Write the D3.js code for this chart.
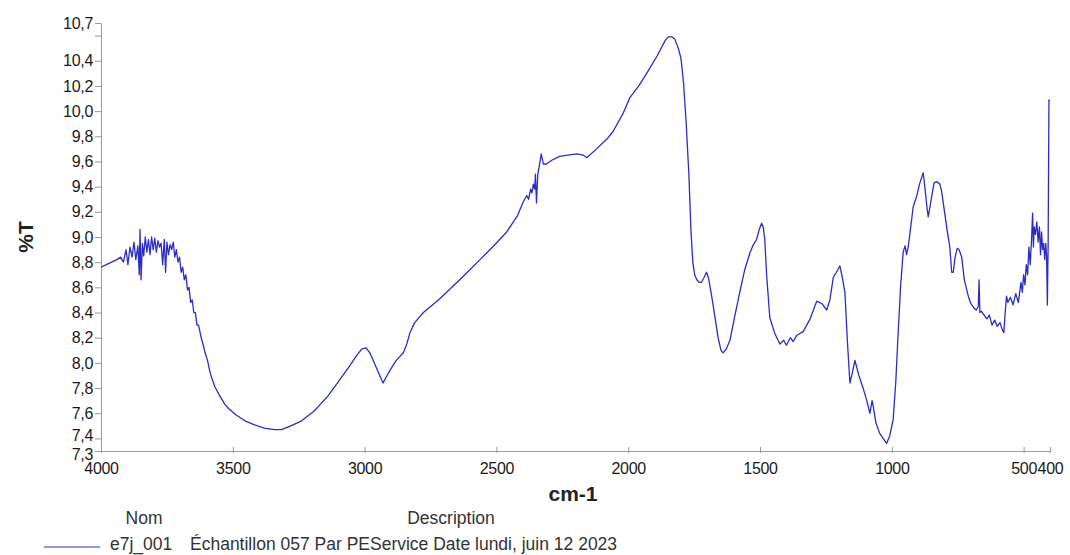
<!DOCTYPE html>
<html>
<head>
<meta charset="utf-8">
<script src="https://cdn.jsdelivr.net/npm/d3@7"></script>
<style>
  body { margin: 0; background: #fff; }
  svg { display: block; font-family: "Liberation Sans", Arial, sans-serif; }
  .tick text { fill: #1a1a1a; }
  .domain, .tick line { stroke: #9a9a9a; }
</style>
</head>
<body>
<div id="chart"></div>
<script>
// spectrum e7j_001
var wavenumbers = [4000,3980,3960,3940,3925,3915,3905,3898,3890,3882,3875,3868,3860,3855,3852,3848,3843,3838,3832,3826,3820,3814,3808,3802,3796,3790,3784,3778,3772,3766,3760,3755,3750,3744,3738,3732,3726,3720,3714,3708,3702,3696,3690,3684,3678,3672,3666,3660,3654,3648,3642,3636,3630,3620,3612,3605,3596,3588,3580,3568,3550,3530,3517,3490,3454,3420,3378,3340,3315,3280,3239,3190,3138,3100,3062,3030,3011,2995,2980,2955,2930,2915,2904,2880,2853,2840,2828,2810,2777,2720,2664,2610,2562,2510,2461,2420,2398,2385,2378,2370,2365,2360,2355,2352,2348,2343,2336,2330,2322,2310,2290,2260,2230,2195,2170,2157,2120,2080,2057,2020,1993,1960,1930,1890,1860,1848,1835,1823,1810,1800,1790,1780,1770,1762,1755,1748,1740,1730,1722,1712,1703,1695,1685,1672,1659,1648,1640,1628,1614,1595,1577,1558,1539,1525,1513,1503,1494,1488,1482,1475,1463,1445,1425,1410,1400,1385,1374,1360,1336,1310,1285,1265,1247,1235,1222,1210,1197,1188,1178,1168,1159,1150,1140,1125,1109,1095,1083,1075,1071,1060,1046,1030,1020,1008,995,985,976,967,957,950,944,938,930,919,905,895,881,873,867,862,852,840,830,818,811,800,790,780,773,767,760,752,745,735,725,710,700,690,680,672,669,666,660,650,640,630,620,610,600,590,580,575,570,565,560,550,540,530,520,510,505,500,495,490,485,480,475,470,466,463,460,455,450,445,440,436,432,428,424,420,416,413,410,407,404,401,400];
var transmittance = [8.76,8.78,8.80,8.82,8.84,8.80,8.90,8.78,8.92,8.84,8.96,8.82,8.93,8.70,9.06,8.66,8.95,8.85,9.00,8.88,8.98,8.86,9.00,8.90,8.99,8.88,8.97,8.92,8.95,8.78,8.98,8.72,8.96,8.86,8.94,8.90,8.96,8.84,8.90,8.80,8.84,8.72,8.76,8.66,8.70,8.58,8.60,8.48,8.50,8.40,8.40,8.30,8.30,8.20,8.14,8.08,8.02,7.94,7.88,7.81,7.74,7.67,7.64,7.59,7.54,7.51,7.48,7.47,7.47,7.50,7.54,7.62,7.74,7.85,7.96,8.06,8.11,8.12,8.08,7.96,7.84,7.90,7.94,8.02,8.08,8.15,8.24,8.32,8.40,8.50,8.61,8.72,8.82,8.93,9.04,9.17,9.28,9.33,9.30,9.38,9.35,9.42,9.38,9.50,9.27,9.50,9.58,9.66,9.58,9.58,9.61,9.64,9.65,9.66,9.65,9.63,9.70,9.78,9.84,9.98,10.11,10.20,10.30,10.44,10.56,10.59,10.59,10.57,10.50,10.42,10.22,9.90,9.50,9.05,8.80,8.70,8.66,8.64,8.64,8.68,8.72,8.67,8.55,8.38,8.20,8.10,8.08,8.11,8.18,8.38,8.56,8.74,8.87,8.94,8.98,9.06,9.11,9.08,8.98,8.70,8.36,8.24,8.15,8.18,8.14,8.20,8.17,8.22,8.25,8.35,8.49,8.47,8.42,8.50,8.68,8.72,8.77,8.68,8.56,8.15,7.84,7.92,8.02,7.90,7.80,7.70,7.60,7.70,7.66,7.52,7.44,7.39,7.36,7.42,7.55,7.85,8.24,8.60,8.88,8.93,8.86,8.92,9.05,9.24,9.33,9.42,9.51,9.36,9.24,9.16,9.28,9.43,9.44,9.42,9.36,9.20,9.05,8.92,8.72,8.72,8.84,8.91,8.90,8.84,8.66,8.53,8.47,8.44,8.42,8.45,8.66,8.40,8.41,8.38,8.35,8.38,8.30,8.34,8.29,8.32,8.26,8.24,8.40,8.53,8.48,8.52,8.46,8.55,8.48,8.64,8.56,8.70,8.62,8.78,8.70,8.92,8.78,8.98,9.19,8.92,9.08,9.02,9.12,8.96,9.08,8.86,9.04,8.90,8.95,8.82,8.95,8.85,8.46,8.95,10.09,10.08];

var xTicks = [4000, 3500, 3000, 2500, 2000, 1500, 1000, 500, 400];
var yTicks = [7.3, 7.4, 7.6, 7.8, 8.0, 8.2, 8.4, 8.6, 8.8, 9.0, 9.2, 9.4, 9.6, 9.8, 10.0, 10.2, 10.4, 10.6, 10.7];
var yTickLabels = ["7,3","7,4","7,6","7,8","8,0","8,2","8,4","8,6","8,8","9,0","9,2","9,4","9,6","9,8","10,0","10,2","10,4","","10,7"];

var legendName = "e7j_001";
var legendDesc = "Échantillon 057 Par PEService Date lundi, juin 12 2023";

var W = 1070, H = 555;
var lineColor = "#2c2cc4";

var svg = d3.select("#chart").append("svg")
    .attr("width", W)
    .attr("height", H);

var x = d3.scaleLinear().domain([4000, 400]).range([101, 1050]);
var y = d3.scaleLinear().domain([7.3, 10.7]).range([451, 23]);

// x axis
var xAxis = svg.append("g")
    .attr("transform", "translate(0," + y(7.3) + ")")
    .call(d3.axisBottom(x).tickValues(xTicks).tickSize(4).tickSizeOuter(0).tickFormat(d3.format("d")));
xAxis.selectAll(".tick line").attr("y1", -4).attr("y2", 2);
xAxis.selectAll(".tick text").attr("dy", "1.0em").style("font-size", "16px").style("letter-spacing", "-0.3px");

// y axis
var yAxis = svg.append("g")
    .attr("transform", "translate(" + x(4000) + ",0)")
    .call(d3.axisLeft(y).tickValues(yTicks).tickSize(6).tickSizeOuter(0)
        .tickFormat(function(d, i) { return yTickLabels[i]; }));
yAxis.selectAll(".tick text").attr("x", -8).style("font-size", "16px").style("letter-spacing", "-0.3px")
    .attr("dy", function(d) { return d === 7.3 ? "0.55em" : (d === 7.4 ? "0.1em" : "0.32em"); });

// spectrum
var line = d3.line()
    .x(function(d, i) { return x(wavenumbers[i]); })
    .y(function(d) { return y(d); });

svg.append("path")
    .datum(transmittance)
    .attr("d", line)
    .attr("fill", "none")
    .attr("stroke", lineColor)
    .attr("stroke-width", 1.3)
    .attr("stroke-linejoin", "round");

// axis titles
svg.append("text")
    .attr("transform", "translate(26," + y(9.0) + ") rotate(-90)")
    .attr("text-anchor", "middle")
    .attr("dy", "0.35em")
    .style("font-size", "21px")
    .style("font-weight", "bold")
    .style("fill", "#222")
    .text("%T");

svg.append("text")
    .attr("x", 573)
    .attr("y", 501)
    .attr("text-anchor", "middle")
    .style("font-size", "21px")
    .style("font-weight", "bold")
    .style("fill", "#222")
    .text("cm-1");

// legend
var legend = svg.append("g").style("font-size", "17.5px").style("fill", "#333");
legend.append("text").attr("x", 144).attr("y", 524).attr("text-anchor", "middle").text("Nom");
legend.append("text").attr("x", 451).attr("y", 524).attr("text-anchor", "middle").text("Description");
legend.append("line")
    .attr("x1", 44).attr("x2", 100).attr("y1", 547).attr("y2", 547)
    .attr("stroke", lineColor).attr("stroke-width", 1.2);
legend.append("text").attr("x", 110).attr("y", 550).text(legendName);
legend.append("text").attr("x", 190).attr("y", 550).text(legendDesc);
</script>
</body>
</html>
